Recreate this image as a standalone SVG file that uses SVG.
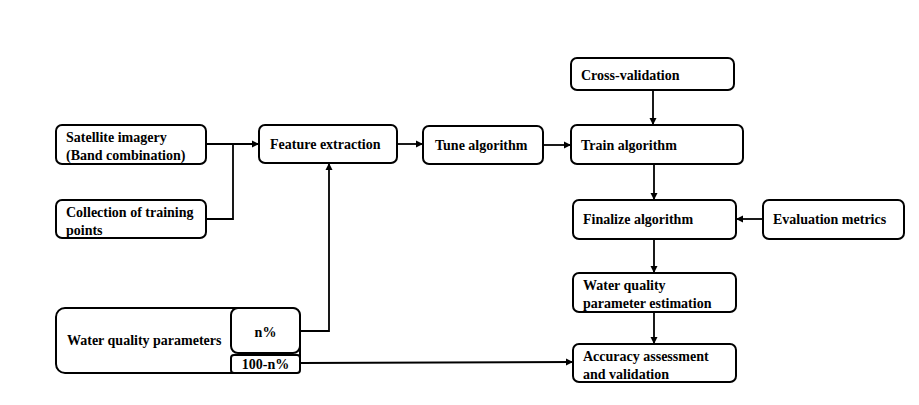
<svg xmlns="http://www.w3.org/2000/svg" width="919" height="405" viewBox="0 0 919 405">
<defs>
<marker id="ah" viewBox="0 0 10 10" refX="10" refY="5" markerWidth="4" markerHeight="4" orient="auto" markerUnits="strokeWidth">
<path d="M0,0 L10,5 L0,10 z" fill="#000"/>
</marker>
<style>
.box{fill:#fff;stroke:#000;stroke-width:2}
.t{font-family:"Liberation Serif","Times New Roman",serif;font-weight:bold;font-size:14px;fill:#000}
.c{text-anchor:middle}
.ln{fill:none;stroke:#000;stroke-width:1.8}
.ar{fill:none;stroke:#000;stroke-width:1.8;marker-end:url(#ah)}
</style>
</defs>
<rect width="919" height="405" fill="#fff"/>
<g id="connectors">
<path class="ar" d="M206,144 H259"/>
<path class="ln" d="M206,219 H233 V144"/>
<path class="ar" d="M300,331 H329 V163"/>
<path class="ar" d="M397,144 H423"/>
<path class="ar" d="M543,145 H571"/>
<path class="ar" d="M653,90 V125"/>
<path class="ar" d="M654,164 V200"/>
<path class="ar" d="M763,219 H736"/>
<path class="ar" d="M654,239 V273"/>
<path class="ar" d="M654,312 V344"/>
<path class="ar" d="M300,363 L573,362"/>
</g>
<g id="satellite">
<rect class="box" x="56" y="125" width="150" height="39" rx="6"/>
<text class="t" x="66" y="142">Satellite imagery</text>
<text class="t" x="66" y="160">(Band combination)</text>
</g>
<g id="collection">
<rect class="box" x="56" y="200" width="150" height="38" rx="6"/>
<text class="t" x="66" y="217">Collection of training</text>
<text class="t" x="66" y="235">points</text>
</g>
<g id="feature">
<rect class="box" x="259" y="125" width="138" height="38" rx="6"/>
<text class="t" x="270" y="149">Feature extraction</text>
</g>
<g id="tune">
<rect class="box" x="423" y="126" width="120" height="38" rx="6"/>
<text class="t" x="435" y="150">Tune algorithm</text>
</g>
<g id="cross">
<rect class="box" x="571" y="58" width="163" height="32" rx="6"/>
<text class="t" x="581" y="80">Cross-validation</text>
</g>
<g id="train">
<rect class="box" x="571" y="125" width="172" height="39" rx="6"/>
<text class="t" x="581" y="150">Train algorithm</text>
</g>
<g id="finalize">
<rect class="box" x="573" y="200" width="163" height="39" rx="6"/>
<text class="t" x="583" y="224">Finalize algorithm</text>
</g>
<g id="evaluation">
<rect class="box" x="763" y="200" width="141" height="39" rx="6"/>
<text class="t" x="773" y="224">Evaluation metrics</text>
</g>
<g id="estimation">
<rect class="box" x="573" y="273" width="163" height="39" rx="6"/>
<text class="t" x="583" y="290">Water quality</text>
<text class="t" x="583" y="308">parameter estimation</text>
</g>
<g id="accuracy">
<rect class="box" x="573" y="344" width="163" height="38" rx="6"/>
<text class="t" x="583" y="361">Accuracy assessment</text>
<text class="t" x="583" y="379">and validation</text>
</g>
<g id="wqp">
<rect class="box" x="56" y="308" width="244" height="65" rx="9"/>
<text class="t" x="67" y="345">Water quality parameters</text>
<rect class="box" x="231" y="308" width="69" height="45" rx="7"/>
<text class="t c" x="265.5" y="337">n%</text>
<rect class="box" x="231" y="355" width="69" height="18" rx="3"/>
<text class="t c" x="265.5" y="369">100-n%</text>
</g>
</svg>
